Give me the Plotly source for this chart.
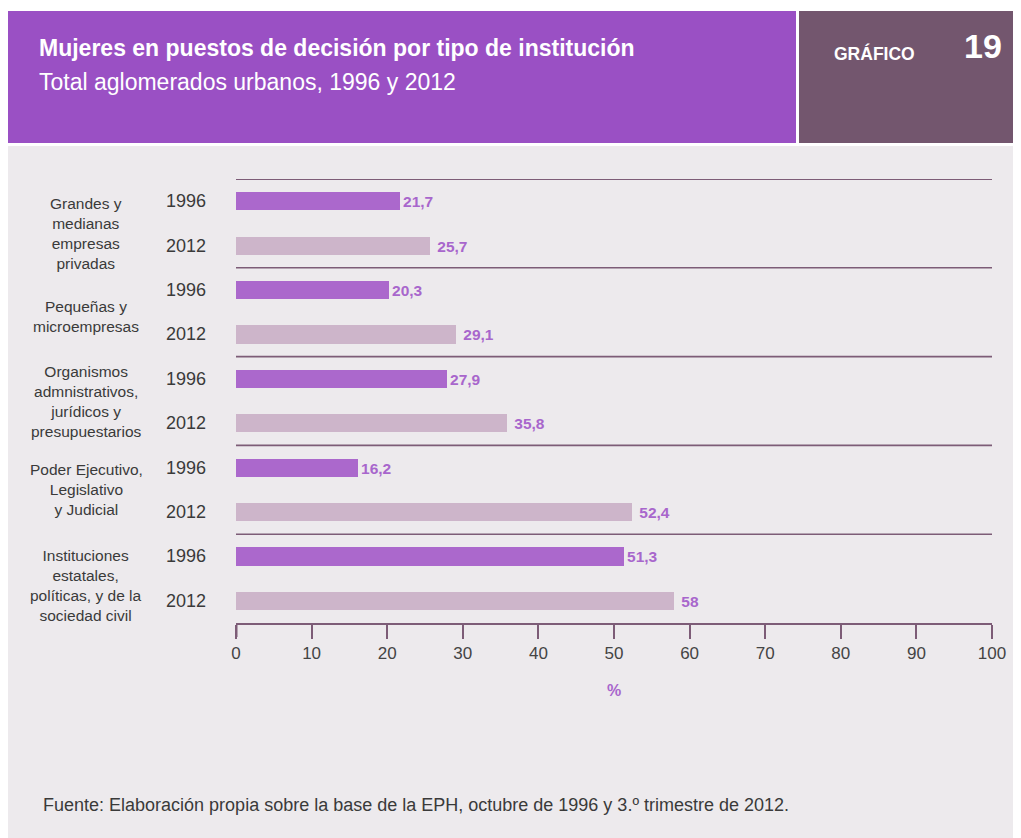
"""Mujeres en puestos de decisión por tipo de institución (gráfico 19)."""
import plotly.graph_objects as go

CATEGORIES = [
    "Grandes y<br>medianas<br>empresas<br>privadas",
    "Pequeñas y<br>microempresas",
    "Organismos<br>admnistrativos,<br>jurídicos y<br>presupuestarios",
    "Poder Ejecutivo,<br>Legislativo<br>y Judicial",
    "Instituciones<br>estatales,<br>políticas, y de la<br>sociedad civil",
]
YEARS = ["1996", "2012"]
V1996 = [21.7, 20.3, 27.9, 16.2, 51.3]
V2012 = [25.7, 29.1, 35.8, 52.4, 58]
X_TICKS = [0, 10, 20, 30, 40, 50, 60, 70, 80, 90, 100]

# the page body adds an 8px margin, so the figure starts at (8, 8)
OFF = 8
W, H = 1021 - OFF, 838 - OFF
L, R, T, B = 236 - OFF, 29, 179 - OFF, 215
PW, PH = W - L - R, H - T - B

PURPLE = "#9A50C4"
MAUVE = "#73566E"
PANEL = "#EDEAED"
BAR96 = "#AB68CC"
BAR12 = "#CDB5CA"
LABEL = "#A866CC"
LINE = "#7D5C77"
TXT = "#3a3a3a"
FONT = "Liberation Sans, Arial, sans-serif"

# small vertical nudges of the group labels, as in the original layout
LABEL_SHIFT = [-10, -4, 0, 0, -7]


def px(x):
    """page pixel x -> paper x"""
    return (x - OFF - L) / PW


def py(y):
    """page pixel y -> paper y"""
    return (H - B - (y - OFF)) / PH


def fmt(v):
    return f"{v:g}".replace(".", ",")


n = len(CATEGORIES)
pos96 = [2 * i for i in range(n)]
pos12 = [2 * i + 1 for i in range(n)]

fig = go.Figure()
fig.add_trace(go.Bar(
    x=V1996, y=pos96, orientation="h", width=0.41,
    marker={"color": BAR96, "line": {"width": 0}},
    text=[fmt(v) for v in V1996], textposition="outside", cliponaxis=False,
    textfont={"family": FONT, "size": 15.5, "color": LABEL, "weight": "bold"},
    showlegend=False, hoverinfo="skip",
))
fig.add_trace(go.Bar(
    x=V2012, y=pos12, orientation="h", width=0.41,
    marker={"color": BAR12, "line": {"width": 0}},
    text=[" " + fmt(v) for v in V2012], textposition="outside", cliponaxis=False,
    textfont={"family": FONT, "size": 15.5, "color": LABEL, "weight": "bold"},
    showlegend=False, hoverinfo="skip",
))

shapes = [
    # white strip above the panel, header boxes
    dict(type="rect", xref="paper", yref="paper", x0=px(0), x1=px(1021),
         y0=py(146), y1=py(0), fillcolor="white", line_width=0, layer="below"),
    dict(type="rect", xref="paper", yref="paper", x0=px(8), x1=px(796),
         y0=py(143), y1=py(11), fillcolor=PURPLE, line_width=0, layer="below"),
    dict(type="rect", xref="paper", yref="paper", x0=px(799), x1=px(1021),
         y0=py(143), y1=py(11), fillcolor=MAUVE, line_width=0, layer="below"),
    # thicker zero tick
    dict(type="line", xref="x", yref="paper", x0=0, x1=0, y0=0, y1=py(637),
         line={"color": LINE, "width": 3}),
]
for g in range(n):
    shapes.append(dict(type="line", xref="paper", yref="y", x0=0, x1=1,
                       y0=2 * g - 0.5, y1=2 * g - 0.5,
                       line={"color": LINE, "width": 1.6 if g else 2}))

ann = []
for g, cat in enumerate(CATEGORIES):
    ann.append(dict(text=cat, xref="paper", yref="y", x=px(86), y=2 * g + 0.5,
                    yshift=LABEL_SHIFT[g],
                    xanchor="center", yanchor="middle", showarrow=False,
                    align="center", font={"family": FONT, "size": 15.5, "color": TXT}))
    for k, yr in enumerate(YEARS):
        ann.append(dict(text=yr, xref="paper", yref="y", x=px(208), y=2 * g + k,
                        xanchor="right", yanchor="middle", showarrow=False,
                        font={"family": FONT, "size": 18, "color": TXT}))

ann += [
    dict(text="<b>Mujeres en puestos de decisión por tipo de institución</b>",
         xref="paper", yref="paper", x=px(37), y=py(48), xanchor="left",
         yanchor="middle", showarrow=False,
         font={"family": FONT, "size": 23, "color": "white"}),
    dict(text="Total aglomerados urbanos, 1996 y 2012",
         xref="paper", yref="paper", x=px(37), y=py(82), xanchor="left",
         yanchor="middle", showarrow=False,
         font={"family": FONT, "size": 23, "color": "white"}),
    dict(text="<b>GRÁFICO</b>", xref="paper", yref="paper", x=px(832), y=py(53),
         xanchor="left", yanchor="middle", showarrow=False,
         font={"family": FONT, "size": 17.5, "color": "white"}),
    dict(text="<b>19</b>", xref="paper", yref="paper", x=px(1004), y=py(46),
         xanchor="right", yanchor="middle", showarrow=False,
         font={"family": FONT, "size": 34, "color": "white"}),
    dict(text="<b>%</b>", xref="paper", yref="paper", x=0.5, y=py(690),
         xanchor="center", yanchor="middle", showarrow=False,
         font={"family": FONT, "size": 16, "color": LABEL}),
    dict(text="Fuente: Elaboración propia sobre la base de la EPH, octubre de 1996 "
              "y 3.º trimestre de 2012.",
         xref="paper", yref="paper", x=px(41), y=py(805), xanchor="left",
         yanchor="middle", showarrow=False,
         font={"family": FONT, "size": 18, "color": TXT}),
]

fig.update_layout(
    width=W, height=H, autosize=False,
    margin={"l": L, "r": R, "t": T, "b": B, "pad": 0},
    paper_bgcolor=PANEL, plot_bgcolor=PANEL,
    font={"family": FONT, "color": TXT},
    shapes=shapes, annotations=ann, bargap=0,
)
fig.update_xaxes(
    range=[0, 100], tickvals=X_TICKS, ticktext=[str(t) for t in X_TICKS],
    showgrid=False, zeroline=False, showline=True, linecolor=LINE, linewidth=1.5,
    ticks="outside", ticklen=14, tickwidth=1.5, tickcolor=LINE,
    tickfont={"family": FONT, "size": 17, "color": "#444"}, fixedrange=True,
)
fig.update_yaxes(
    range=[2 * n - 0.5, -0.5], visible=False, showgrid=False, zeroline=False,
    fixedrange=True,
)

fig.write_html("out.html")
